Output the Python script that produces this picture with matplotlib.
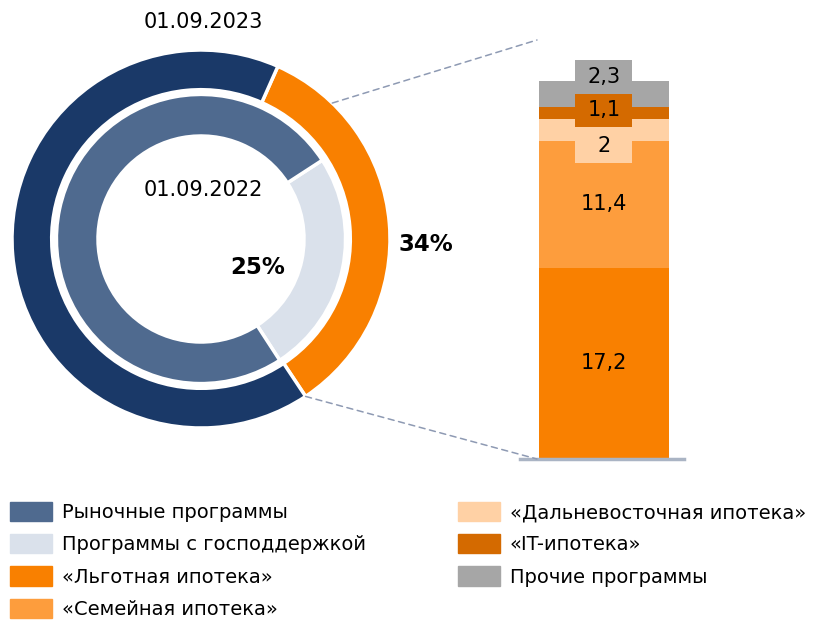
import numpy as np
import matplotlib
matplotlib.use("Agg")
import matplotlib.pyplot as plt
from matplotlib.patches import Patch, Rectangle, ConnectionPatch

# ---- data ----
outer_labels = ["Программы с господдержкой", "Рыночные программы"]
outer_values = [34, 66]          # 01.09.2023
inner_values = [25, 75]          # 01.09.2022
bar_labels = ["«Льготная ипотека»", "«Семейная ипотека»", "«Дальневосточная ипотека»",
              "«IT-ипотека»", "Прочие программы"]
bar_values = [17.2, 11.4, 2.0, 1.1, 2.3]
bar_texts = ["17,2", "11,4", "2", "1,1", "2,3"]

# ---- colours ----
navy = "#1a3968"
slate = "#4f6a8f"
light = "#dae1eb"
orange = "#f98000"
bar_colors = ["#f98000", "#fd9d3d", "#ffd1a5", "#d46a00", "#a6a6a6"]

plt.rcParams['font.family'] = ['DejaVu Sans']

W, H = 835, 627
fig = plt.figure(figsize=(W / 100, H / 100), dpi=100)


def px_axes(x0, y0, x1, y1):
    return fig.add_axes([x0 / W, 1 - y1 / H, (x1 - x0) / W, (y1 - y0) / H])


# ---- donut ----
ax = px_axes(12, 50, 390, 428)
ax.pie(outer_values, radius=1.0, startangle=66, counterclock=False,
       colors=[orange, navy],
       wedgeprops=dict(width=0.21, edgecolor="white", linewidth=2.5))
ax.pie(inner_values, radius=0.765, startangle=33, counterclock=False,
       colors=[light, slate],
       wedgeprops=dict(width=0.22, edgecolor="white", linewidth=2.5))
ax.set_xlim(-1, 1)
ax.set_ylim(-1, 1)
ax.set_aspect("auto")
ax.axis("off")

ax.text(0.01, 1.148, "01.09.2023", ha="center", va="center", fontsize=15, clip_on=False)
ax.text(0.01, 0.26, "01.09.2022", ha="center", va="center", fontsize=15)
ax.text(0.30, -0.153, f"{inner_values[0]}%", ha="center", va="center",
        fontsize=16.5, fontweight="bold")
ax.text(1.19, -0.03, f"{outer_values[0]}%", ha="center", va="center",
        fontsize=16.5, fontweight="bold", clip_on=False)

# ---- stacked bar ----
axb = px_axes(520, 40, 688, 459)
axb.set_xlim(0, 1)
axb.set_ylim(0, 37.7)
axb.axis("off")
bar_w = 130 / 168
bottoms = np.concatenate([[0], np.cumsum(bar_values)[:-1]])
for v, b, c, lab in zip(bar_values, bottoms, bar_colors, bar_labels):
    axb.bar(0.5, v, bottom=b, width=bar_w, color=c, label=lab)
axb.axhline(0, xmin=0, xmax=(684 - 520) / 168, color="#aab4c4", lw=2.5, clip_on=False)

shift = [0, 0, -1.45, 0.25, 1.55]
box_w = 57 / 168
box_h = 34 / 11.12
for i in range(len(bar_values)):
    yc = bottoms[i] + bar_values[i] / 2 + shift[i]
    if shift[i] != 0:
        axb.add_patch(Rectangle((0.5 - box_w / 2 - 0.005, yc - box_h / 2), box_w, box_h,
                                facecolor=bar_colors[i], edgecolor="none", zorder=3 + i))
    axb.text(0.5, yc, bar_texts[i], ha="center", va="center", fontsize=15, zorder=10)

# ---- connectors ----
a1 = np.deg2rad(46)
a2 = np.deg2rad(66 - 360 * outer_values[0] / 100)
for xyA, xyB in [((np.cos(a1), np.sin(a1)), (0.101, 1.0)),
                 ((np.cos(a2), np.sin(a2)), (0.101, 0.0))]:
    con = ConnectionPatch(xyA=xyA, coordsA=ax.transData, xyB=xyB, coordsB=axb.transAxes,
                          color="#8e9ab3", lw=1.1, linestyle=(0, (4, 3)))
    fig.add_artist(con)

# ---- legends ----
h1 = [Patch(color=slate, label="Рыночные программы"),
      Patch(color=light, label="Программы с господдержкой"),
      Patch(color=bar_colors[0], label=bar_labels[0]),
      Patch(color=bar_colors[1], label=bar_labels[1])]
h2 = [Patch(color=bar_colors[2], label=bar_labels[2]),
      Patch(color=bar_colors[3], label=bar_labels[3]),
      Patch(color=bar_colors[4], label=bar_labels[4])]
common = dict(loc="upper left", frameon=False, borderpad=0, borderaxespad=0,
              handlelength=2.16, handleheight=1.14, handletextpad=0.5,
              labelspacing=0.62, fontsize=14)
fig.legend(handles=h1, bbox_to_anchor=(10 / W, 1 - 502 / H), **common)
fig.legend(handles=h2, bbox_to_anchor=(458 / W, 1 - 502 / H), **common)

fig.savefig("out.png", dpi=100)
